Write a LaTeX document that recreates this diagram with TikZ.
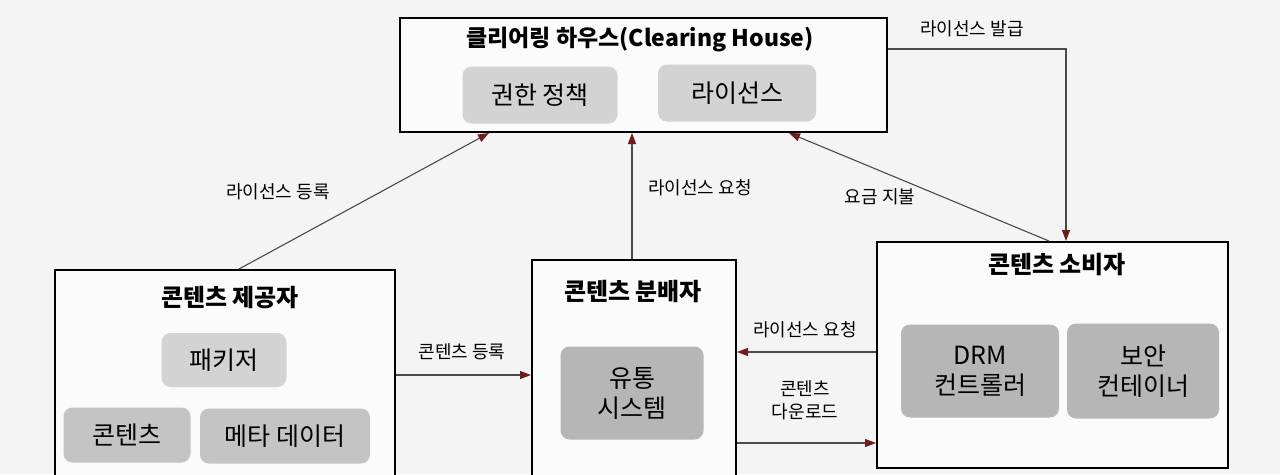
\documentclass[tikz,border=0pt]{standalone}
\usepackage{fontspec}
\setmainfont{Noto Sans CJK KR}
\usetikzlibrary{arrows.meta}
\definecolor{paper}{HTML}{F4F4F4}
\definecolor{arrowred}{HTML}{6E1C1C}
\definecolor{lightbox}{HTML}{D3D3D3}
\definecolor{midbox}{HTML}{C4C4C4}
\definecolor{darkbox}{HTML}{B6B6B6}
\definecolor{linegray}{HTML}{4A4A4A}
\tikzset{
  outerbox/.style={draw=black, line width=2pt, fill=white!60!paper, inner sep=0pt},
  innerbox/.style={fill=#1, rounded corners=9pt, inner sep=0pt, align=center,
    font=\fontsize{25}{30}\selectfont},
  titletext/.style={font=\fontsize{24}{28}\selectfont\bfseries, inner sep=0pt},
  lbl/.style={font=\fontsize{18}{23}\selectfont, inner sep=0pt, align=center},
  conn/.style={draw=linegray, line width=1.1pt,
    -{Triangle[length=11pt,width=8pt,fill=arrowred,color=arrowred]}}
}
\begin{document}
\begin{tikzpicture}[x=1pt, y=-1pt]
\useasboundingbox (0,0) rectangle (1280,474);
\clip (0,0) rectangle (1280,474);
\fill[paper] (0,0) rectangle (1280,474);

% Clearing house
\node[outerbox, minimum width=487pt, minimum height=114pt] (ch) at (643.5,75) {};
\node[titletext, font=\fontsize{23}{27}\selectfont\bfseries] (chT) at (640,40) {클리어링 하우스(Clearing House)};
\node[innerbox=lightbox, minimum width=155pt, minimum height=57pt] (pol) at (540,95) {권한 정책};
\node[innerbox=lightbox, minimum width=158pt, minimum height=57pt] (lic) at (737,93) {라이선스};

% Content provider
\node[outerbox, minimum width=340pt, minimum height=240pt] (prov) at (225,390) {};
\node[titletext] (provT) at (230,298) {콘텐츠 제공자};
\node[innerbox=lightbox, minimum width=125pt, minimum height=54pt] (pack) at (224,360) {패키저};
\node[innerbox=midbox, minimum width=127pt, minimum height=55pt] (cont) at (127,435) {콘텐츠};
\node[innerbox=midbox, minimum width=170pt, minimum height=55pt] (meta) at (285,436) {메타 데이터};

% Content distributor
\node[outerbox, minimum width=204pt, minimum height=250pt] (dist) at (634,385) {};
\node[titletext] (distT) at (633,292) {콘텐츠 분배자};
\node[innerbox=darkbox, minimum width=143pt, minimum height=93pt] (sys) at (632,393) {유통\\시스템};

% Content consumer
\node[outerbox, minimum width=351pt, minimum height=226pt] (cons) at (1052.5,355) {};
\node[titletext] (consT) at (1057,265) {콘텐츠 소비자};
\node[innerbox=darkbox, minimum width=158pt, minimum height=93pt] (drm) at (980,371) {DRM\\컨트롤러};
\node[innerbox=darkbox, minimum width=152pt, minimum height=95pt] (sec) at (1143,371) {보안\\컨테이너};

% Connectors
\draw[conn] ([xshift=185pt]prov.north west) -- ([xshift=90pt]ch.south west);
\node[lbl] (l1) at (278,192) {라이선스 등록};

\draw[conn] (dist.north -| sys.north) -- (sys.north |- ch.south);
\node[lbl] (l2) at (700,188) {라이선스 요청};

\draw[conn] ([xshift=173pt]cons.north west) -- ([xshift=390pt]ch.south west);
\node[lbl] (l3) at (880,197) {요금 지불};

\draw[conn] ([yshift=-32pt]ch.north east) -| ([xshift=190pt]cons.north west);
\node[lbl] (l4) at (972,29) {라이선스 발급};

\draw[conn] ([yshift=15pt]prov.east) -- ([yshift=15pt]prov.east -| dist.west);
\node[lbl] (l5) at (462,352) {콘텐츠 등록};

\draw[conn] ([yshift=3pt]cons.west) -- ([yshift=3pt]cons.west -| dist.east);
\node[lbl] (l6) at (805,330) {라이선스 요청};

\draw[conn] ([yshift=-58pt]dist.east) -- ([yshift=-58pt]dist.east -| cons.west);
\node[lbl] (l7) at (805,400) {콘텐츠\\다운로드};
\end{tikzpicture}
\end{document}
